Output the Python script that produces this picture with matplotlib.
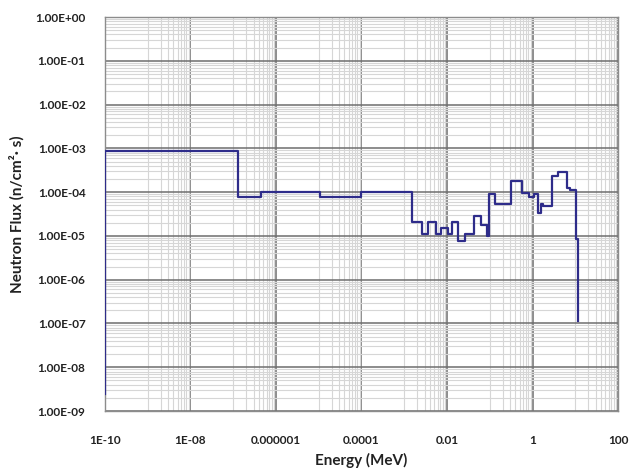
import matplotlib
matplotlib.use("Agg")
import matplotlib.pyplot as plt
from matplotlib.ticker import FixedLocator, FixedFormatter, NullFormatter

# Neutron spectrum: group lower energies (MeV) and flux held until the next energy
energy = [1e-10, 1e-10, 1.3e-7, 4.4e-7, 1.07e-5, 1.0e-4, 1.55e-3, 2.6e-3, 3.5e-3,
          5.5e-3, 7.3e-3, 1.07e-2, 1.3e-2, 1.8e-2, 2.6e-2, 4.3e-2, 6.4e-2, 8.4e-2,
          9.6e-2, 1.33e-1, 3.2e-1, 5.6e-1, 8.5e-1, 1.1, 1.37, 1.54, 1.75, 2.8,
          4.0, 6.4, 7.7, 10.4, 11.3]
flux = [2.5e-9, 8.5e-4, 7.9e-5, 1.0e-4, 7.8e-5, 1.0e-4, 2.1e-5, 1.1e-5, 2.1e-5,
        1.1e-5, 1.55e-5, 1.1e-5, 2.1e-5, 7.6e-6, 1.1e-5, 2.8e-5, 1.8e-5, 1.0e-5,
        9.3e-5, 5.5e-5, 1.8e-4, 9.8e-5, 7.7e-5, 8.9e-5, 3.4e-5, 5.3e-5, 4.8e-5,
        2.3e-4, 2.9e-4, 1.27e-4, 1.1e-4, 8.3e-6, 1.12e-7]

x_ticks = [1e-10, 1e-8, 1e-6, 1e-4, 1e-2, 1, 100]
x_tick_labels = ["1E-10", "1E-08", "0.000001", "0.0001", "0.01", "1", "100"]
y_ticks = [1e-9, 1e-8, 1e-7, 1e-6, 1e-5, 1e-4, 1e-3, 1e-2, 1e-1, 1]
y_tick_labels = ["1.00E-09", "1.00E-08", "1.00E-07", "1.00E-06", "1.00E-05",
                 "1.00E-04", "1.00E-03", "1.00E-02", "1.00E-01", "1.00E+00"]

plt.rcParams["font.family"] = ["Lato", "DejaVu Sans"]

fig = plt.figure(figsize=(6.31, 4.73), dpi=100)
ax = fig.add_axes([0.1664, 0.131, 0.8130, 0.833])

ax.set_xscale("log")
ax.set_yscale("log")
ax.set_xlim(1e-10, 100)
ax.set_ylim(1e-9, 1)

# x gridlines: major every two decades, minor at k*10^(odd decade)
x_minor = [k * 10.0 ** e for e in range(-9, 2, 2) for k in range(1, 10)]
y_minor = [k * 10.0 ** e for e in range(-9, 0) for k in range(2, 10)]
ax.xaxis.set_major_locator(FixedLocator(x_ticks))
ax.xaxis.set_major_formatter(FixedFormatter(x_tick_labels))
ax.xaxis.set_minor_locator(FixedLocator(x_minor))
ax.xaxis.set_minor_formatter(NullFormatter())
ax.yaxis.set_major_locator(FixedLocator(y_ticks))
ax.yaxis.set_major_formatter(FixedFormatter(y_tick_labels))
ax.yaxis.set_minor_locator(FixedLocator(y_minor))
ax.yaxis.set_minor_formatter(NullFormatter())

ax.grid(which="minor", color="#d6d6d6", linewidth=0.8, zorder=0)
ax.grid(which="major", color="#6e6e6e", linewidth=1.1, zorder=1)
ax.set_axisbelow(True)

ax.tick_params(which="both", length=0)
ax.tick_params(axis="x", pad=17, labelsize=8.5, colors="#222222")
ax.tick_params(axis="y", pad=14, labelsize=8.5, colors="#222222")
for lab in ax.get_xticklabels() + ax.get_yticklabels():
    lab.set_fontweight("bold")

for side in ["left", "bottom", "right", "top"]:
    ax.spines[side].set_color("#8c8c8c")
    ax.spines[side].set_linewidth(1.0)

ax.step(energy, flux, where="post", color="#2E2C8A", linewidth=1.6, zorder=3)

ax.set_xlabel("Energy (MeV)", fontsize=11, fontweight="bold", labelpad=5, color="#222222")
ax.set_ylabel("Neutron Flux (n/cm\u00b2\u00b7 s)", fontsize=11, fontweight="bold",
              labelpad=8, color="#222222")

fig.savefig("out.png", dpi=100)
